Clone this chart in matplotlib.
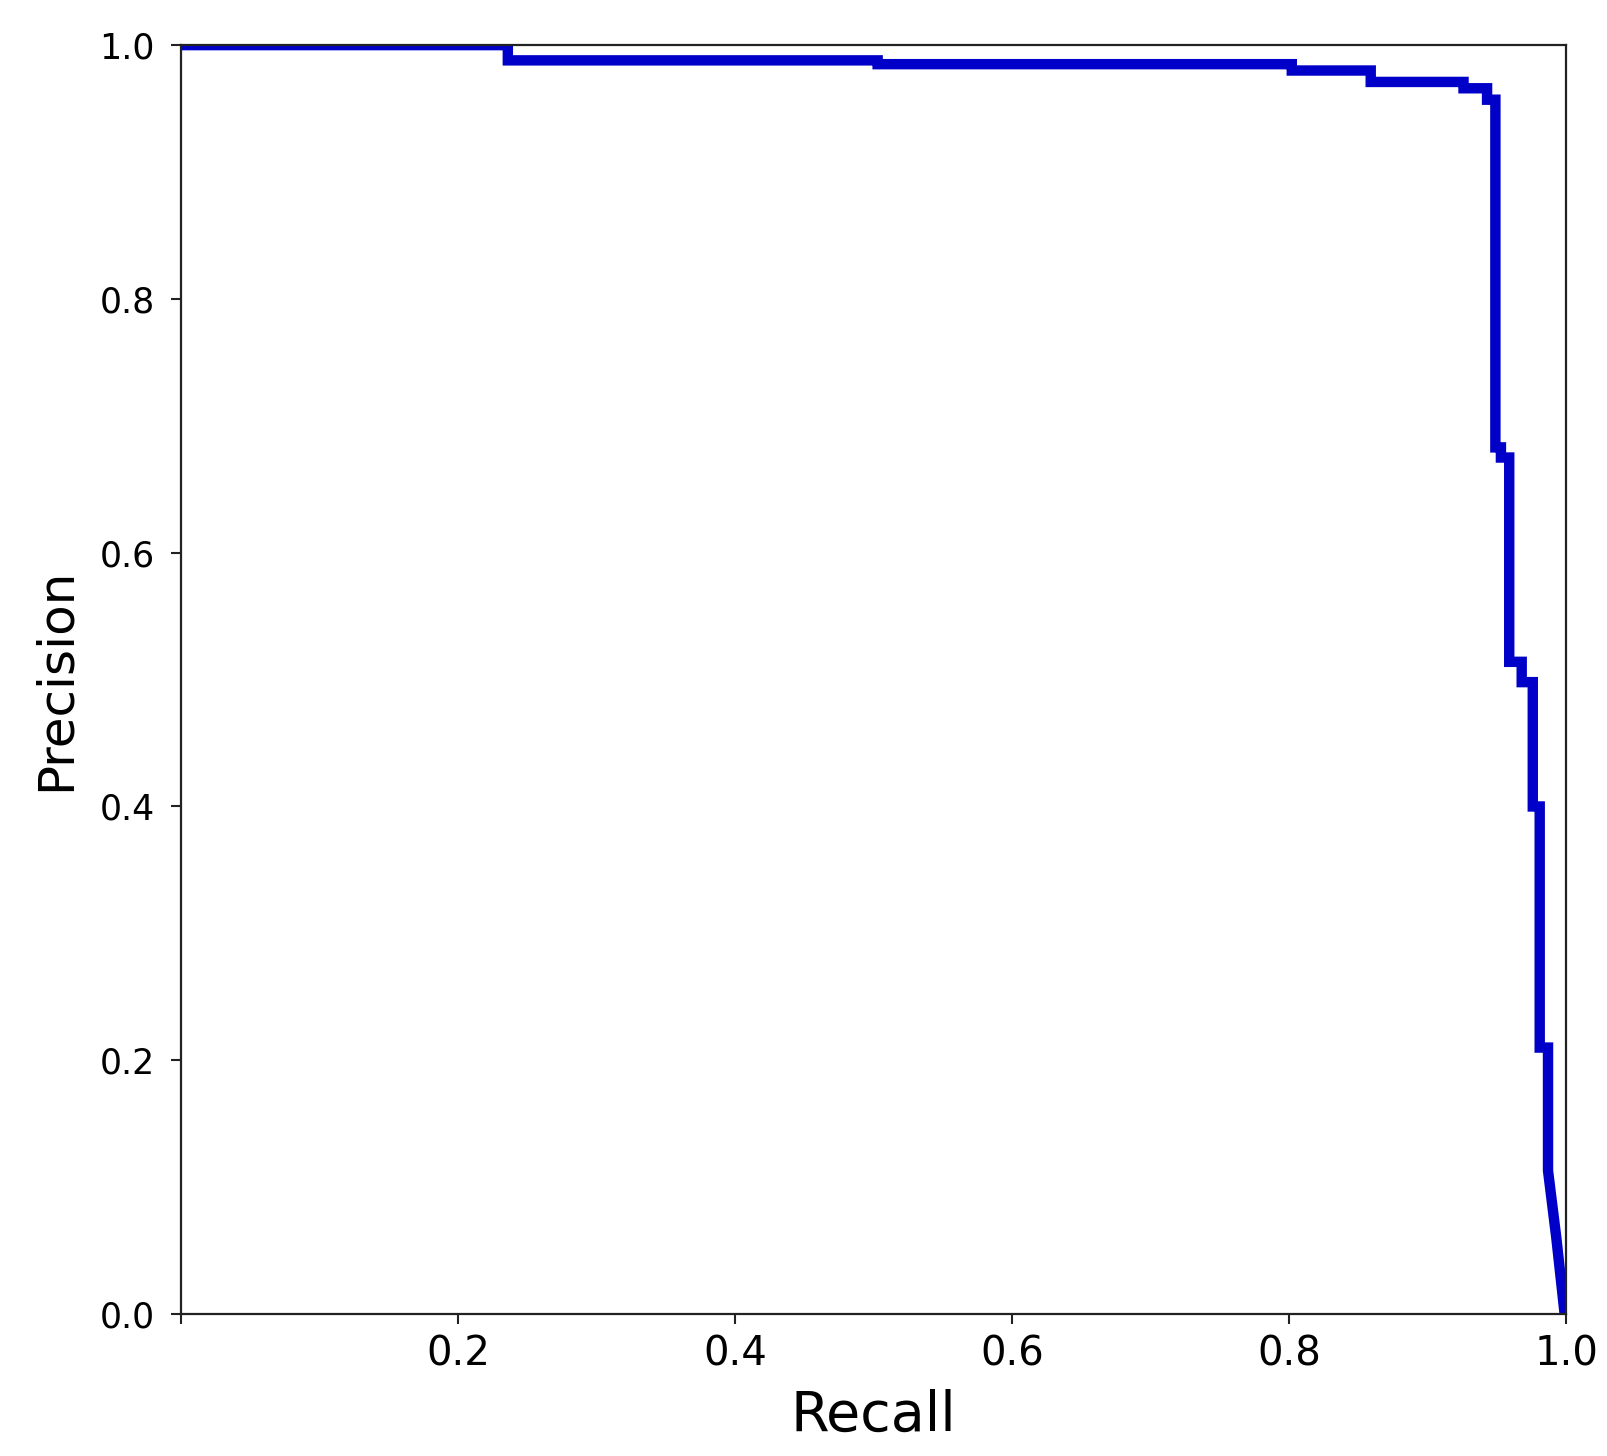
import numpy as np
import matplotlib
matplotlib.use('Agg')
import matplotlib.pyplot as plt

# precision / recall curve (stepped)
recall = [0.0, 0.236, 0.236, 0.503, 0.503, 0.802, 0.802, 0.859, 0.859,
          0.926, 0.926, 0.943, 0.943, 0.949, 0.949, 0.953, 0.953, 0.959,
          0.959, 0.968, 0.968, 0.976, 0.976, 0.981, 0.981, 0.987, 0.987,
          0.993, 0.999]
precision = [1.0, 1.0, 0.988, 0.988, 0.985, 0.985, 0.980, 0.980, 0.971,
             0.971, 0.966, 0.966, 0.957, 0.957, 0.683, 0.683, 0.675, 0.675,
             0.514, 0.514, 0.498, 0.498, 0.400, 0.400, 0.210, 0.210, 0.113,
             0.060, 0.0]

xticks = [0.0, 0.2, 0.4, 0.6, 0.8, 1.0]
xlabels = ['', '0.2', '0.4', '0.6', '0.8', '1.0']
yticks = [0.0, 0.2, 0.4, 0.6, 0.8, 1.0]
ylabels = ['0.0', '0.2', '0.4', '0.6', '0.8', '1.0']

fig = plt.figure(figsize=(16.07, 14.56), dpi=100)
ax = fig.add_axes([0.1126, 0.0975, 0.8619, 0.8715])

ax.plot(recall, precision, color='#0000c8', linewidth=7.5,
        solid_joinstyle='miter')

ax.set_xlim(0, 1)
ax.set_ylim(0, 1)
ax.set_xticks(xticks)
ax.set_xticklabels(xlabels, fontsize=29)
ax.set_yticks(yticks)
ax.set_yticklabels(ylabels, fontsize=25)
ax.tick_params(axis='both', direction='out', length=7, width=1.5,
               color='#222222')
ax.tick_params(axis='x', pad=8)
ax.tick_params(axis='y', pad=12)
for s in ax.spines.values():
    s.set_linewidth(1.6)
    s.set_color('#222222')

ax.set_xlabel('Recall', fontsize=40, labelpad=10)
ax.set_ylabel('Precision', fontsize=36, labelpad=14)

fig.savefig('out.png', dpi=100, facecolor='white')
